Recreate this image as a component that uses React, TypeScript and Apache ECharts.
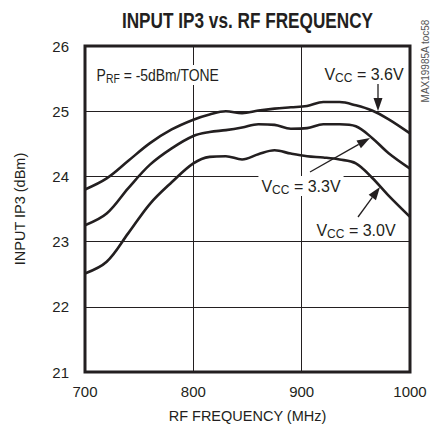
import React, { useEffect, useRef } from "react";
import * as echarts from "echarts";

const freqs = [700, 720, 740, 760, 780, 800, 815, 830, 845, 860, 875, 890, 905, 920, 935, 950, 965, 980, 1000];
const vcc36 = [23.80, 23.97, 24.24, 24.51, 24.72, 24.87, 24.95, 25.00, 24.97, 25.01, 25.04, 25.06, 25.08, 25.14, 25.14, 25.09, 25.01, 24.88, 24.66];
const vcc33 = [23.25, 23.43, 23.82, 24.18, 24.43, 24.62, 24.68, 24.71, 24.75, 24.80, 24.79, 24.73, 24.74, 24.80, 24.80, 24.77, 24.59, 24.36, 24.12];
const vcc30 = [22.51, 22.69, 23.13, 23.58, 23.91, 24.20, 24.30, 24.31, 24.26, 24.34, 24.40, 24.35, 24.31, 24.29, 24.26, 24.20, 23.98, 23.71, 23.38];
const seriesNames = ["VCC = 3.6V", "VCC = 3.3V", "VCC = 3.0V"];

const FONT = "'Liberation Sans', Arial, sans-serif";
const INK = "#231f20";

function arrow(x1: number, y1: number, x2: number, y2: number) {
  const dx = x2 - x1, dy = y2 - y1;
  const len = Math.hypot(dx, dy);
  const ux = dx / len, uy = dy / len;
  const hl = 13, hw = 4.5;
  const bx = x2 - ux * hl, by = y2 - uy * hl;
  return [
    { type: "line", shape: { x1, y1, x2: bx, y2: by }, style: { stroke: INK, lineWidth: 1.3 }, z: 20 },
    {
      type: "polygon",
      shape: { points: [[x2, y2], [bx - uy * hw, by + ux * hw], [bx + uy * hw, by - ux * hw]] },
      style: { fill: INK },
      z: 20,
    },
  ];
}

function label(text: string, x: number, y: number, align: string, size = 16, scaleX = 1) {
  return {
    type: "text",
    x,
    y,
    scaleX,
    z: 15,
    style: {
      text,
      align,
      verticalAlign: "middle",
      fontFamily: FONT,
      fill: INK,
      backgroundColor: "#fff",
      padding: [0, 3, 0, 3],
      rich: {
        a: { fontSize: size, fontFamily: FONT, fill: INK, lineHeight: 20 },
        s: { fontSize: size - 4, fontFamily: FONT, fill: INK, lineHeight: 12, verticalAlign: "bottom" },
      },
    },
  };
}

export default function App() {
  const ref = useRef<HTMLDivElement>(null);
  useEffect(() => {
    const chart = echarts.init(ref.current!, undefined, { renderer: "svg" });
    const mk = (name: string, vals: number[]) => ({
      name,
      type: "line",
      data: freqs.map((f, i) => [f, vals[i]]),
      smooth: 0.35,
      symbol: "none",
      lineStyle: { color: INK, width: 2.6 },
      z: 5,
    });
    chart.setOption({
      animation: false,
      grid: { left: 85, right: 30, top: 46, bottom: 61, show: true, borderColor: INK, borderWidth: 3, backgroundColor: "transparent" },
      xAxis: {
        type: "value",
        min: 700,
        max: 1000,
        interval: 100,
        name: "RF FREQUENCY (MHz)",
        nameLocation: "middle",
        nameGap: 36,
        nameTextStyle: { fontFamily: FONT, fontSize: 14.5, color: INK },
        axisLine: { show: false },
        axisTick: { show: false },
        axisLabel: { fontFamily: FONT, fontSize: 15, color: INK, margin: 12, formatter: (v: number) => String(v) },
        splitLine: { show: true, lineStyle: { color: INK, width: 1 } },
      },
      yAxis: {
        type: "value",
        min: 21,
        max: 26,
        interval: 1,
        name: "INPUT IP3 (dBm)",
        nameLocation: "middle",
        nameGap: 58,
        nameTextStyle: { fontFamily: FONT, fontSize: 14.5, color: INK },
        axisLine: { show: false },
        axisTick: { show: false },
        axisLabel: { fontFamily: FONT, fontSize: 15, color: INK, margin: 16 },
        splitLine: { show: true, lineStyle: { color: INK, width: 1 } },
      },
      series: [mk(seriesNames[0], vcc36), mk(seriesNames[1], vcc33), mk(seriesNames[2], vcc30)],
      graphic: [
        {
          type: "text",
          x: 247.5,
          y: 20,
          scaleX: 0.8,
          style: {
            text: "INPUT IP3 vs. RF FREQUENCY",
            align: "center",
            verticalAlign: "middle",
            fontFamily: FONT,
            fontSize: 21.5,
            fontWeight: "bold",
            fill: INK,
          },
        },
        label("{a|P}{s|RF}{a| = -5dBm/TONE}", 94, 75, "left", 16, 0.87),
        label("{a|V}{s|CC}{a| = 3.6V}", 364, 74, "center"),
        label("{a|V}{s|CC}{a| = 3.3V}", 301, 186, "center"),
        label("{a|V}{s|CC}{a| = 3.0V}", 356, 230, "center"),
        ...arrow(378, 84, 378, 111),
        ...arrow(310, 172, 370, 138),
        ...arrow(358, 217, 380, 187),
        {
          type: "text",
          x: 425,
          y: 61,
          rotation: Math.PI / 2,
          style: { text: "MAX19985A toc58", align: "center", verticalAlign: "middle", fontFamily: FONT, fontSize: 10, fill: "#555" },
        },
      ],
    });
    return () => chart.dispose();
  }, []);
  return <div ref={ref} style={{ width: 440, height: 433, position: "absolute", left: 0, top: 0 }} />;
}
